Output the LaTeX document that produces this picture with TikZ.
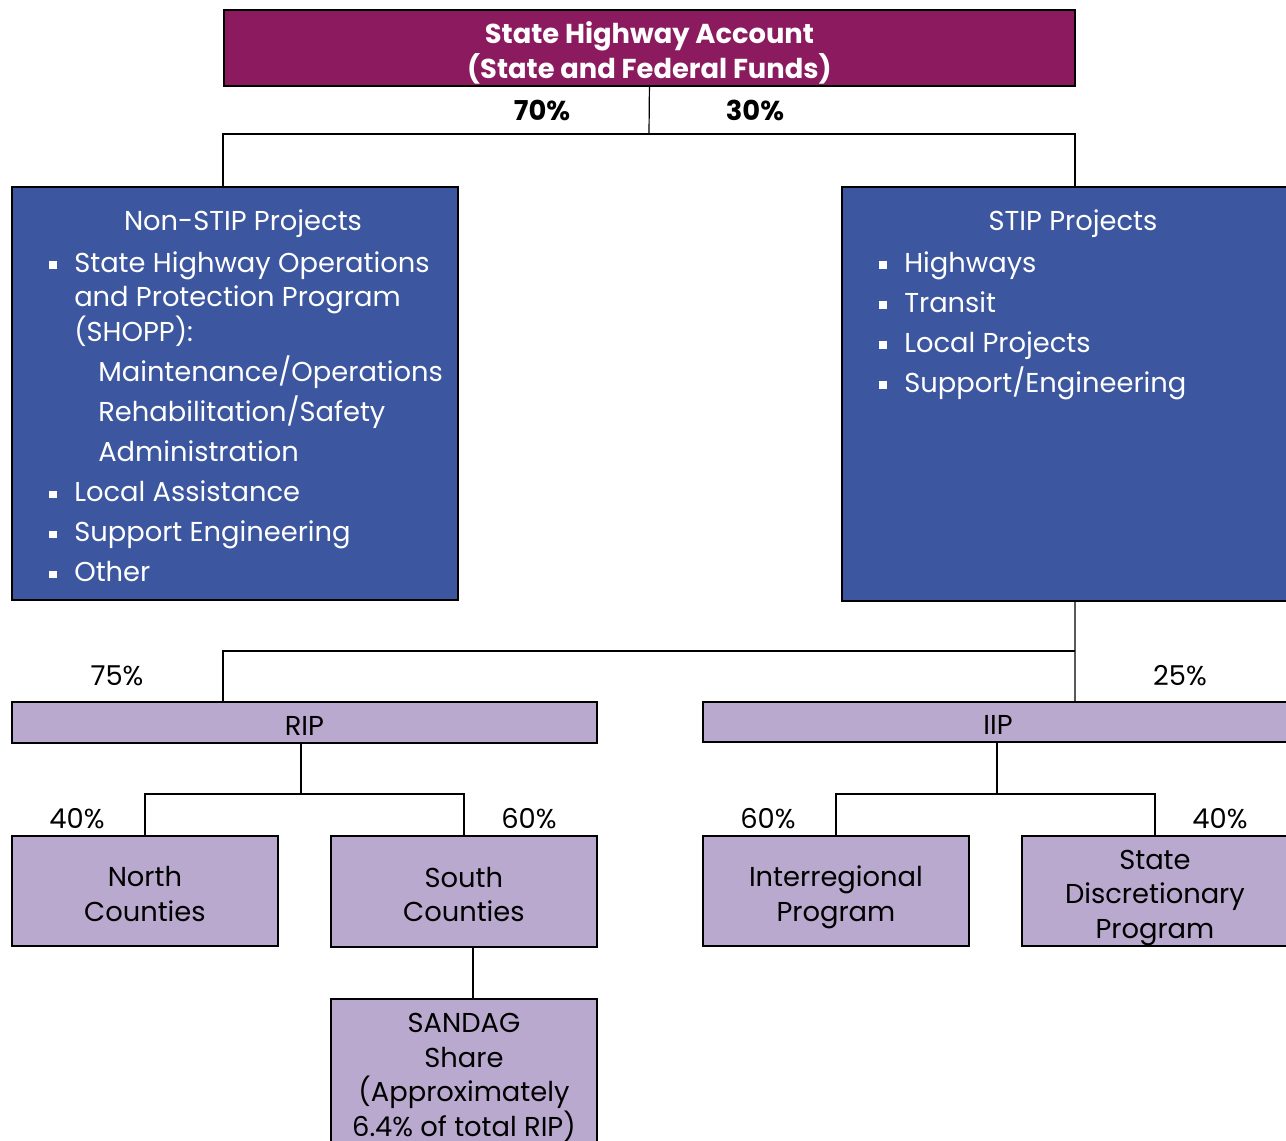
\documentclass[tikz,border=0pt]{standalone}
\usepackage{fontspec}
\setmainfont{Poppins}
\usetikzlibrary{positioning}

\definecolor{acctpurple}{RGB}{139,27,94}
\definecolor{projblue}{RGB}{60,87,160}
\definecolor{proglav}{RGB}{185,169,206}

\newcommand{\sqbul}{\makebox[18.75pt][l]{\raisebox{0.12em}{\rule{5.5pt}{5.5pt}}}}
\newcommand{\subind}{\hspace*{18.75pt}\hspace*{18pt}}
\newcommand{\boxfont}{\fontsize{20.5}{26}\selectfont}

\tikzset{
  box/.style={draw=black, line width=1.4pt, inner sep=0pt, anchor=north west},
  bluebox/.style={box, fill=projblue},
  lavbox/.style={box, fill=proglav},
  boxtext/.style={align=center, font=\boxfont, inner sep=0pt, yshift=-4.5pt},
  pct/.style={font=\boxfont, inner sep=0pt},
  link/.style={line width=0.9pt}
}

\begin{document}
\begin{tikzpicture}[x=0.75pt, y=-0.75pt]
    \clip (0,0) rectangle (1286,1141);

    % Top account
    \node (top) [box, fill=acctpurple, minimum width=851*0.75pt, minimum height=76*0.75pt] at (223,9) {};
    \node (toptext) [boxtext, yshift=0.75pt, text=white, font=\bfseries\boxfont] at (top)
        {State Highway Account\\(State and Federal Funds)};

    % Project boxes
    \node (nonstip) [bluebox, minimum width=446*0.75pt, minimum height=413*0.75pt] at (11,186) {};
    \node (stip) [bluebox, minimum width=466*0.75pt, minimum height=414*0.75pt] at (841,186) {};

    \node (nonstiptitle) [pct, text=white] at (243,224) {Non-STIP Projects};
    \node (stiptitle) [pct, text=white] at (1073,224) {STIP Projects};

    \node (nonstiplist) [pct, text=white, align=left, anchor=north west] at (49,251)
        {\sqbul State Highway Operations\\
         \hspace*{18.75pt}and Protection Program\\
         \hspace*{18.75pt}(SHOPP):\\[4pt]
         \subind Maintenance/Operations\\[4pt]
         \subind Rehabilitation/Safety\\[4pt]
         \subind Administration\\[4pt]
         \sqbul Local Assistance\\[4pt]
         \sqbul Support Engineering\\[4pt]
         \sqbul Other};
    \node (stiplist) [pct, text=white, align=left, anchor=north west] at (879,251)
        {\sqbul Highways\\[4pt]
         \sqbul Transit\\[4pt]
         \sqbul Local Projects\\[4pt]
         \sqbul Support/Engineering};

    % Program boxes
    \node (rip) [lavbox, minimum width=585*0.75pt, minimum height=41*0.75pt] at (11,701) {};
    \node (iip) [lavbox, minimum width=590*0.75pt, minimum height=40*0.75pt] at (702,701) {};
    \node (north) [lavbox, minimum width=266*0.75pt, minimum height=110*0.75pt] at (11,835) {};
    \node (south) [lavbox, minimum width=266*0.75pt, minimum height=111*0.75pt] at (330,835) {};
    \node (inter) [lavbox, minimum width=266*0.75pt, minimum height=110*0.75pt] at (702,835) {};
    \node (statedisc) [lavbox, minimum width=266*0.75pt, minimum height=110*0.75pt] at (1021,835) {};
    \node (sandag) [lavbox, minimum width=266*0.75pt, minimum height=145*0.75pt] at (330,998) {};

    \node (riptext) [boxtext] at (rip) {\strut RIP\strut};
    \node (iiptext) [boxtext] at (iip) {\strut IIP\strut};
    \node (northtext) [boxtext] at (north) {\strut North\\Counties\strut};
    \node (southtext) [boxtext] at (south) {\strut South\\Counties\strut};
    \node (intertext) [boxtext] at (inter) {\strut Interregional\\Program\strut};
    \node (statedisctext) [boxtext] at (statedisc) {\strut State\\Discretionary\\Program\strut};
    \node (sandagtext) [boxtext] at (sandag) {\strut SANDAG\\Share\\(Approximately\\6.4\% of total RIP)\strut};

    % Fork points
    \coordinate (fork1) at (649,134);
    \coordinate (forkleft1) at (223,134);
    \coordinate (fork2) at (1075,651);
    \coordinate (forkleft2) at (223,651);
    \coordinate (fork3) at (301,794);
    \coordinate (fork4) at (997,794);

    % Connectors
    \draw[link] (top.south) -- (fork1);
    \draw[link] (nonstip.north -| forkleft1) -- (forkleft1) -- (fork1 -| stip.north) -- (stip.north);
    \draw[link] (stip.south) -- (fork2) -- (iip.north -| fork2);
    \draw[link] (fork2) -- (forkleft2) -- (rip.north -| forkleft2);
    \draw[link] (rip.south -| fork3) -- (fork3);
    \draw[link] (north.north) -- (fork3 -| north.north) -- (fork3 -| south.north) -- (south.north);
    \draw[link] (iip.south -| fork4) -- (fork4);
    \draw[link] (inter.north) -- (fork4 -| inter.north) -- (fork4 -| statedisc.north) -- (statedisc.north);
    \draw[link] ([xshift=6.75pt]south.south) -- ([xshift=6.75pt]sandag.north);

    % Shares
    \node (pct70) [pct, font=\bfseries\boxfont] at (542,110) {70\%};
    \node (pct30) [pct, font=\bfseries\boxfont] at (755,110) {30\%};
    \node (pct75) [pct] at (117,676) {75\%};
    \node (pct25) [pct] at (1180,676) {25\%};
    \node (pctnorth) [pct] at (77,819) {40\%};
    \node (pctsouth) [pct] at (529,819) {60\%};
    \node (pctinter) [pct] at (768,819) {60\%};
    \node (pctstate) [pct] at (1220,819) {40\%};
\end{tikzpicture}
\end{document}
